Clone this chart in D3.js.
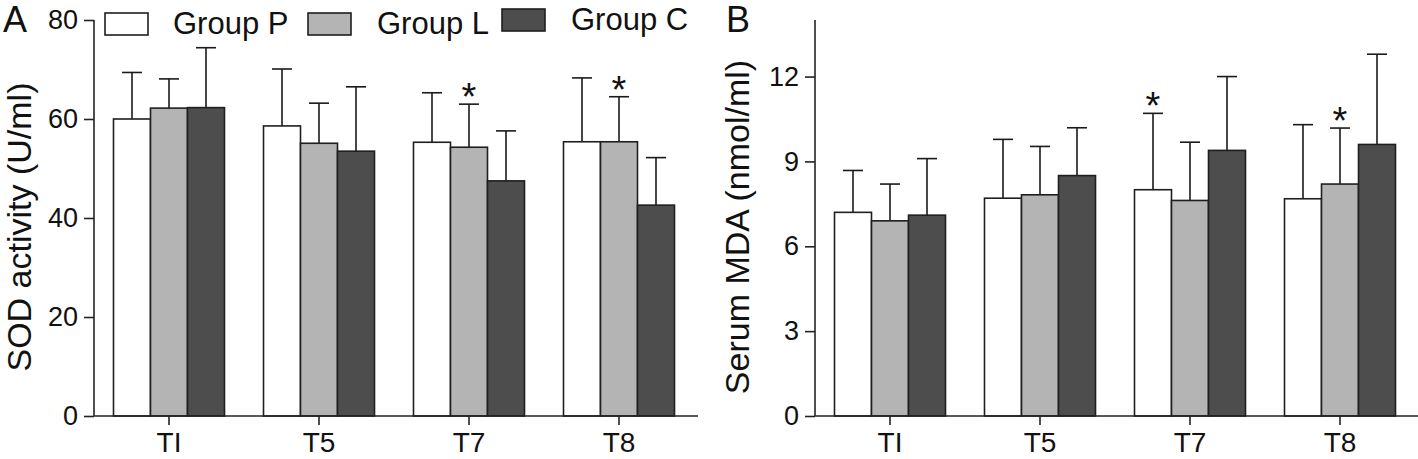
<!DOCTYPE html>
<html><head><meta charset="utf-8">
<script src="https://cdn.jsdelivr.net/npm/d3@7/dist/d3.min.js"></script>
<style>
body{margin:0;background:#fff;}
svg text{font-family:"Liberation Sans",Arial,sans-serif;fill:#111;}
</style></head>
<body><svg id="c" width="1418" height="459"></svg>
<script>
// ---- data ----
const categories = ["TI", "T5", "T7", "T8"];
const groups = ["Group P", "Group L", "Group C"];
const sodP = [60.0, 58.6, 55.3, 55.4];
const sodL = [62.2, 55.1, 54.3, 55.4];
const sodC = [62.3, 53.5, 47.5, 42.6];
const sodErrP = [9.4, 11.5, 10.0, 12.9];
const sodErrL = [5.9, 8.1, 8.7, 9.1];
const sodErrC = [12.1, 13.0, 10.1, 9.6];
const mdaP = [7.2, 7.7, 8.0, 7.68];
const mdaL = [6.9, 7.82, 7.62, 8.2];
const mdaC = [7.1, 8.5, 9.39, 9.6];
const mdaErrP = [1.48, 2.08, 2.7, 2.62];
const mdaErrL = [1.3, 1.71, 2.06, 1.98];
const mdaErrC = [2.0, 1.69, 2.61, 3.19];
const sodTicks = [0, 20, 40, 60, 80];
const mdaTicks = [0, 3, 6, 9, 12];
// significance markers: [category index, group index]
const sodStars = [[2, 1], [3, 1]];
const mdaStars = [[2, 0], [3, 1]];

const fills = ["#ffffff", "#b4b4b4", "#4d4d4d"];
const svg = d3.select("#c");

function panel(opts) {
  const g = svg.append("g");
  const y = d3.scaleLinear().domain(opts.ydom).range([416, 20]);
  const x0 = d3.scaleBand().domain(categories).range(opts.xr).paddingInner(0.26).paddingOuter(0.13);
  const x1 = d3.scaleBand().domain(groups).range([0, x0.bandwidth()]);
  const series = [opts.P, opts.L, opts.C];
  const errs = [opts.eP, opts.eL, opts.eC];

  // error bars (upper only)
  categories.forEach((c, i) => {
    groups.forEach((gr, j) => {
      const cx = x0(c) + x1(gr) + x1.bandwidth() / 2;
      const top = y(series[j][i] + errs[j][i]);
      g.append("line").attr("x1", cx).attr("x2", cx).attr("y1", y(series[j][i])).attr("y2", top)
        .attr("stroke", "#1a1a1a").attr("stroke-width", 1.6);
      g.append("line").attr("x1", cx - 10).attr("x2", cx + 10).attr("y1", top).attr("y2", top)
        .attr("stroke", "#1a1a1a").attr("stroke-width", 1.6);
    });
  });
  // bars
  categories.forEach((c, i) => {
    groups.forEach((gr, j) => {
      g.append("rect").attr("x", x0(c) + x1(gr)).attr("y", y(series[j][i]))
        .attr("width", x1.bandwidth()).attr("height", y(0) - y(series[j][i]))
        .attr("fill", fills[j]).attr("stroke", "#1f1f1f").attr("stroke-width", 1.6);
    });
  });
  // stars
  opts.stars.forEach(([i, j]) => {
    const cx = x0(categories[i]) + x1(groups[j]) + x1.bandwidth() / 2;
    const top = y(series[j][i] + errs[j][i]);
    g.append("text").attr("x", cx).attr("y", top + 6).attr("text-anchor", "middle")
      .attr("font-size", 38).text("*");
  });
  // y axis
  const ya = g.append("g").attr("transform", `translate(${opts.xr[0]},0)`)
    .call(d3.axisLeft(y).tickValues(opts.ticks).tickSize(10).tickPadding(6).tickSizeOuter(0));
  ya.select(".domain").attr("d", `M0,${y(0)}V20`);
  ya.selectAll("path,line").attr("stroke", "#222").attr("stroke-width", 1.6);
  ya.selectAll("text").attr("font-size", 27).attr("font-family", "Liberation Sans, Arial, sans-serif").attr("fill", "#111");
  // x axis
  const xa = g.append("g").attr("transform", `translate(0,${y(0)})`)
    .call(d3.axisBottom(x0).tickSize(9).tickPadding(7).tickSizeOuter(0));
  xa.select(".domain").attr("d", `M${opts.xr[0]},0H${opts.xend}`);
  xa.selectAll("path,line").attr("stroke", "#222").attr("stroke-width", 1.6);
  xa.selectAll("text").attr("font-size", 28).attr("font-family", "Liberation Sans, Arial, sans-serif").attr("fill", "#111");
  // y title
  g.append("text").attr("transform", `translate(${opts.titleX},227) rotate(-90)`)
    .attr("text-anchor", "middle").attr("font-size", 34).text(opts.title);
  // panel letter
  g.append("text").attr("x", opts.letterX).attr("y", 32).attr("font-size", 36).text(opts.letter);
}

panel({ydom: [0, 80], xr: [94, 694], xend: 698, P: sodP, L: sodL, C: sodC,
  eP: sodErrP, eL: sodErrL, eC: sodErrC, ticks: sodTicks, stars: sodStars,
  title: "SOD activity (U/ml)", titleX: 31, letter: "A", letterX: 3});
panel({ydom: [0, 14], xr: [815, 1415], xend: 1418, P: mdaP, L: mdaL, C: mdaC,
  eP: mdaErrP, eL: mdaErrL, eC: mdaErrC, ticks: mdaTicks, stars: mdaStars,
  title: "Serum MDA (nmol/ml)", titleX: 749, letter: "B", letterX: 726});

// legend
const leg = [[105, 13, 173, 34], [308, 13, 377, 34], [502, 9, 571, 30]];
groups.forEach((gr, j) => {
  svg.append("rect").attr("x", leg[j][0]).attr("y", leg[j][1]).attr("width", 43).attr("height", 22)
    .attr("fill", fills[j]).attr("stroke", "#1f1f1f").attr("stroke-width", 1.6);
  svg.append("text").attr("x", leg[j][2]).attr("y", leg[j][3]).attr("font-size", 31).text(gr);
});
</script></body></html>
